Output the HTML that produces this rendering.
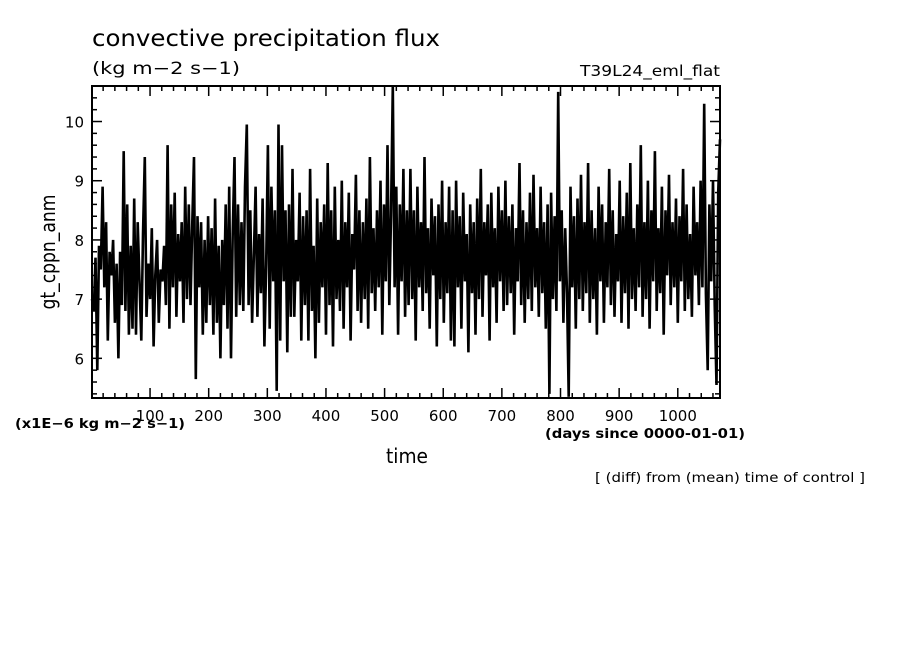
<!DOCTYPE html>
<html><head><meta charset="utf-8"><style>
html,body{margin:0;padding:0;background:#fff;}
svg{display:block;font-family:"DejaVu Sans","Liberation Sans",sans-serif;}
</style></head><body>
<svg id="chart" width="904" height="654" viewBox="0 0 904 654" xmlns="http://www.w3.org/2000/svg">
<rect width="904" height="654" fill="#fff"/>
<text x="92" y="46" font-size="23" textLength="348" lengthAdjust="spacingAndGlyphs">convective precipitation flux</text>
<text x="92" y="74" font-size="17" textLength="148" lengthAdjust="spacingAndGlyphs">(kg m−2 s−1)</text>
<text x="580" y="76" font-size="15" textLength="140" lengthAdjust="spacingAndGlyphs">T39L24_eml_flat</text>
<text transform="translate(55,252) rotate(-90)" font-size="20" text-anchor="middle" textLength="115" lengthAdjust="spacingAndGlyphs">gt_cppn_anm</text>
<text x="386" y="463" font-size="20" textLength="42" lengthAdjust="spacingAndGlyphs">time</text>
<text x="15" y="428" font-size="13" font-weight="bold" textLength="170" lengthAdjust="spacingAndGlyphs">(x1E−6 kg m−2 s−1)</text>
<text x="545" y="438" font-size="13" font-weight="bold" textLength="200" lengthAdjust="spacingAndGlyphs">(days since 0000-01-01)</text>
<text x="595" y="482" font-size="13" textLength="270" lengthAdjust="spacingAndGlyphs">[ (diff) from (mean) time of control ]</text>
<g id="axes"></g>
<g id="series"></g>
<rect x="92" y="86" width="628" height="312" fill="none" stroke="#000" stroke-width="2"/>
</svg>
<script>
const xTicks = [100,200,300,400,500,600,700,800,900,1000];
const yTicks = [6,7,8,9,10];
const dayStart = 1;
const dayStep = 3;
const values = [
7.0,6.8,7.7,5.8,7.9,7.5,8.9,7.2,8.3,6.3,7.8,7.4,8.0,6.6,7.6,6.0,7.8,6.9,9.5,6.8,
8.6,6.4,7.9,6.5,8.7,6.4,8.3,7.3,6.3,8.1,9.4,6.7,7.6,7.0,8.2,6.2,7.4,8.0,6.6,7.5,
7.3,7.9,6.9,9.6,6.5,8.6,7.2,8.8,6.7,8.1,7.3,8.3,6.6,8.9,7.0,8.6,6.9,8.3,9.4,5.65,
8.4,7.2,8.3,6.4,8.0,6.6,8.4,6.9,8.2,6.4,8.7,6.6,7.9,6.0,8.0,6.9,8.6,6.5,8.9,6.0,
8.1,9.4,6.7,8.6,6.9,8.3,6.8,8.9,9.95,6.9,8.5,6.6,7.7,8.9,6.7,8.1,7.1,8.7,6.2,7.6,
9.6,6.5,8.9,7.3,8.5,5.45,9.95,6.3,9.6,7.3,8.5,6.1,8.6,6.7,9.2,6.7,8.0,7.3,8.8,6.3,
8.4,6.9,8.5,6.3,9.2,6.8,7.9,6.0,8.7,6.6,8.3,7.2,8.6,6.4,9.3,6.9,8.5,6.2,8.9,7.0,
8.0,6.8,9.0,6.5,8.3,7.2,8.8,6.3,8.1,7.5,9.1,6.8,8.5,6.6,8.3,7.0,8.7,6.5,9.4,7.1,
8.2,6.8,8.5,7.2,9.0,6.4,8.6,7.3,9.6,6.9,8.4,10.6,7.2,8.9,6.4,8.6,7.3,9.2,6.7,8.5,
6.9,9.2,7.0,8.5,6.3,8.9,7.2,8.3,6.8,9.4,7.1,8.2,6.5,8.7,7.4,8.4,6.2,8.6,7.0,9.0,
6.6,8.3,7.1,8.9,6.3,8.5,6.2,9.0,7.2,8.4,6.5,8.8,7.3,8.1,6.1,8.6,7.1,8.3,6.4,8.7,
7.0,9.2,6.7,8.3,7.4,8.6,6.3,8.8,7.2,8.2,6.6,8.9,7.3,8.5,6.8,9.0,6.9,8.4,7.1,8.6,
6.4,8.2,7.3,9.3,6.9,8.5,6.6,8.3,7.0,8.8,6.8,9.1,7.2,8.2,6.7,8.9,7.1,8.3,6.5,8.6,
5.4,8.8,7.0,8.4,6.8,10.5,7.3,8.5,6.6,8.2,7.1,5.35,8.9,7.2,8.4,6.5,8.7,7.0,9.1,6.8,
8.3,7.1,9.3,6.6,8.5,7.0,8.2,6.4,8.9,7.3,8.6,6.6,8.3,7.2,9.2,6.9,8.5,6.7,8.1,7.3,
9.0,6.6,8.4,7.1,8.8,6.5,9.3,7.0,8.2,6.8,8.6,7.2,9.6,6.7,8.3,7.0,9.0,6.5,8.5,7.3,
9.5,6.8,8.2,7.1,8.9,6.4,8.5,7.4,9.1,6.9,8.3,7.2,8.7,6.6,8.4,7.3,9.2,6.8,8.6,7.0,
8.1,6.7,8.9,7.4,8.3,6.9,9.0,7.2,10.3,7.1,5.8,8.6,7.3,9.0,6.9,5.55,8.8,9.7
];
const X0=92, X1=720, Y0=398, Y1=86;
const dMin=1, dMax=1072, vMin=5.33, vMax=10.6;
function xs(d){return X0+(d-dMin)/(dMax-dMin)*(X1-X0);}
function ys(v){return Y0-(v-vMin)/(vMax-vMin)*(Y0-Y1);}
const NS="http://www.w3.org/2000/svg";
const axes=document.getElementById('axes');
function line(x1,y1,x2,y2,name){
  const l=document.createElementNS(NS,'line');
  l.setAttribute('x1',x1);l.setAttribute('y1',y1);l.setAttribute('x2',x2);l.setAttribute('y2',y2);
  l.setAttribute('stroke','#000');l.setAttribute('stroke-width','1.5');
  
  
  axes.appendChild(l);
}
for(let d=20; d<=dMax; d+=20){
  const x=xs(d); const len=(d%100===0)?10:5;
  line(x,Y0,x,Y0-len,'x-tick');
  line(x,Y1,x,Y1+len,'x-tick');
}
for(let v=5.4; v<=vMax; v+=0.2){
  const y=ys(v); const major=Math.abs(v-Math.round(v))<0.01; const len=major?10:5;
  line(X0,y,X0+len,y,'y-tick');
  line(X1,y,X1-len,y,'y-tick');
}
xTicks.forEach(t=>{
  const tx=document.createElementNS(NS,'text');
  tx.setAttribute('x',xs(t));tx.setAttribute('y',Y0+23);
  tx.setAttribute('text-anchor','middle');tx.setAttribute('font-size','15');
  tx.textContent=t;
  
  
  axes.appendChild(tx);
});
yTicks.forEach(t=>{
  const tx=document.createElementNS(NS,'text');
  tx.setAttribute('x',X0-8);tx.setAttribute('y',ys(t)+6);
  tx.setAttribute('text-anchor','end');tx.setAttribute('font-size','15');
  tx.textContent=t;
  
  
  axes.appendChild(tx);
});
const pts=values.map((v,i)=>xs(dayStart+i*dayStep).toFixed(1)+','+ys(v).toFixed(1)).join(' ');
const pl=document.createElementNS(NS,'polyline');
pl.setAttribute('points',pts);pl.setAttribute('fill','none');
pl.setAttribute('stroke','#000');pl.setAttribute('stroke-width','2.6');pl.setAttribute('stroke-linejoin','miter');


document.getElementById('series').appendChild(pl);
</script>
</body></html>
